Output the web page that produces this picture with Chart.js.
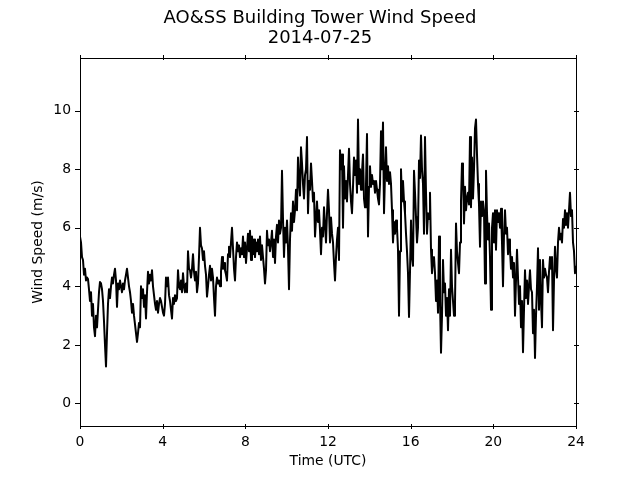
<!DOCTYPE html>
<html>
<head>
<meta charset="utf-8">
<script src="https://cdn.jsdelivr.net/npm/chart.js@4/dist/chart.umd.min.js"></script>
<style>
  html, body { margin: 0; padding: 0; background: #fff; }
  #wrap { width: 640px; height: 480px; }
</style>
</head>
<body>
<div id="wrap"><canvas id="windChart" width="640" height="480"></canvas></div>
<script>
// wind speed (m/s), evenly spaced samples from 00 to 24 UTC
const windSpeed = [
  5.7,5.5,5.0,4.9,4.4,4.6,4.2,4.3,4.25,3.9,3.5,3.8,3.0,3.4,2.6,2.3,3.0,2.6,3.2,3.8,
  4.15,4.1,3.9,3.5,2.8,2.0,1.26,2.4,3.4,3.9,3.6,4.0,4.3,4.1,4.4,4.6,4.2,3.3,4.1,3.9,
  4.2,4.0,3.8,4.1,3.9,4.2,4.4,4.6,4.3,4.0,3.8,3.5,3.1,3.4,3.0,2.7,2.4,2.1,2.4,2.75,
  2.6,4.0,3.6,3.9,3.3,3.7,2.9,3.8,4.5,4.1,4.4,4.2,4.55,4.0,3.7,3.4,3.2,3.5,3.1,3.4,
  3.6,3.5,3.3,3.1,3.0,3.4,4.3,4.0,4.3,3.7,3.5,3.2,2.9,3.6,3.4,3.7,3.5,3.6,4.55,4.0,
  3.9,4.2,3.8,4.45,4.0,3.8,4.1,3.8,5.2,4.6,4.55,4.3,4.6,5.1,4.5,4.2,4.5,3.8,4.1,5.0,
  6.0,5.4,5.3,4.9,5.2,4.7,4.4,3.65,4.0,4.4,4.7,4.2,4.6,4.3,3.6,3.0,4.0,4.3,4.1,4.2,
  4.0,4.5,5.0,4.6,4.8,4.55,4.4,4.2,5.1,5.35,5.0,5.5,6.0,5.3,4.6,4.2,5.0,5.5,5.2,5.4,
  5.0,5.3,5.1,5.7,5.0,5.5,4.8,5.3,5.8,5.2,5.9,4.9,5.7,5.1,5.6,5.0,5.5,5.2,5.6,5.1,
  5.7,4.9,5.4,5.0,4.6,4.1,4.55,5.9,5.4,5.6,5.2,5.5,5.9,5.0,5.6,4.8,5.7,6.1,5.5,6.25,
  5.8,6.0,7.95,6.3,5.0,6.0,5.5,6.25,5.3,3.9,5.6,6.5,5.9,6.9,6.2,6.6,7.3,6.6,8.4,7.6,
  7.1,8.75,8.2,7.5,7.0,7.8,8.0,9.1,6.5,7.6,7.3,8.2,7.6,6.9,7.2,5.7,6.3,6.9,6.2,6.6,
  5.9,5.1,6.0,5.7,6.7,6.1,5.5,6.5,7.3,6.6,5.5,6.35,5.8,5.5,4.8,4.2,5.0,5.6,6.0,4.9,
  8.65,8.0,8.5,6.0,8.1,7.0,7.6,6.9,7.8,8.7,7.5,6.9,6.5,7.4,8.4,7.8,8.3,7.2,9.7,7.5,
  8.0,7.3,7.9,8.5,7.0,6.7,7.5,9.2,5.7,7.4,8.1,7.4,7.8,7.5,7.6,7.2,7.6,7.3,7.0,6.8,
  7.5,9.3,8.0,9.6,6.5,7.8,8.75,7.6,8.1,7.5,7.9,7.5,6.6,5.5,6.2,5.8,6.25,6.0,5.25,3.0,
  5.2,8.0,6.9,7.6,6.9,6.5,5.8,5.2,4.45,2.95,4.5,6.25,5.0,4.7,7.95,7.2,6.35,5.5,6.0,8.3,
  7.7,9.15,8.0,7.5,5.8,9.1,7.2,5.8,6.5,6.3,7.2,5.25,4.45,4.9,5.0,4.45,3.5,4.2,3.1,5.7,
  3.5,1.73,3.0,4.9,3.8,4.1,3.0,3.6,2.5,3.9,3.0,5.25,4.0,3.5,3.0,3.4,6.15,5.2,4.8,4.45,
  5.5,6.9,8.2,7.85,6.15,7.4,6.6,7.0,7.2,6.8,9.1,6.7,8.4,7.0,8.0,9.4,9.7,8.5,7.5,6.8,
  5.35,6.9,6.4,6.9,6.6,4.1,7.95,6.5,5.6,6.15,5.0,3.2,6.0,6.5,5.5,6.6,5.25,6.6,6.2,6.5,
  6.0,6.65,5.5,4.0,5.8,6.6,5.8,6.0,5.1,5.6,5.25,4.6,5.0,4.3,4.8,3.0,4.2,5.25,4.3,3.4,
  4.0,2.6,3.5,1.75,3.2,4.55,3.6,4.2,3.4,4.0,4.55,3.9,3.8,2.4,3.2,1.55,3.0,4.0,5.3,3.2,
  4.9,3.5,2.6,4.9,4.3,4.6,4.4,4.3,3.8,4.5,5.0,4.6,5.0,2.5,4.2,5.35,4.6,4.3,5.5,6.0,
  5.6,5.8,5.5,6.3,6.0,6.6,6.1,6.5,6.0,6.6,7.2,6.4,6.6,5.5,5.2,4.45,4.7
];
const xTicks = [0, 4, 8, 12, 16, 20, 24];
const yTicks = [0, 2, 4, 6, 8, 10];

const stepHours = 24 / (windSpeed.length - 1);
const points = windSpeed.map((v, i) => ({ x: i * stepHours, y: v }));

const fontFamily = '"DejaVu Sans", sans-serif';

// black frame around the plot with small tick marks on all four sides
const framePlugin = {
  id: 'frame',
  afterDraw(chart) {
    const { ctx, chartArea: a, scales } = chart;
    ctx.save();
    ctx.strokeStyle = '#000';
    ctx.lineWidth = 1;
    ctx.strokeRect(Math.round(a.left) + 0.5, Math.round(a.top) + 0.5,
      Math.round(a.right - a.left), Math.round(a.bottom - a.top));
    ctx.beginPath();
    xTicks.forEach(t => {
      const px = Math.round(scales.x.getPixelForValue(t)) + 0.5;
      ctx.moveTo(px, a.bottom - 2); ctx.lineTo(px, a.bottom + 3);
      ctx.moveTo(px, a.top - 3); ctx.lineTo(px, a.top + 2);
    });
    yTicks.forEach(t => {
      const py = Math.round(scales.y.getPixelForValue(t)) + 0.5;
      ctx.moveTo(a.left - 5, py); ctx.lineTo(a.left, py);
      ctx.moveTo(a.right - 2, py); ctx.lineTo(a.right + 3, py);
    });
    ctx.stroke();
    ctx.restore();
  }
};

new Chart(document.getElementById('windChart').getContext('2d'), {
  type: 'line',
  data: {
    datasets: [{
      label: 'Wind Speed',
      data: points,
      borderColor: '#000',
      borderWidth: 2,
      borderJoinStyle: 'round',
      pointRadius: 0,
      tension: 0,
      fill: false
    }]
  },
  options: {
    responsive: false,
    animation: false,
    events: [],
    layout: { padding: 0 },
    plugins: {
      legend: { display: false },
      tooltip: { enabled: false },
      title: {
        display: true,
        text: ['AO&SS Building Tower Wind Speed', '2014-07-25'],
        color: '#000',
        font: { family: fontFamily, size: 18, weight: 'normal', lineHeight: 1.15 },
        padding: { top: 7.5, bottom: 9.1 }
      }
    },
    scales: {
      x: {
        type: 'linear',
        min: 0,
        max: 24,
        afterBuildTicks: s => { s.ticks = xTicks.map(v => ({ value: v })); },
        afterFit: s => { s.height = 54; },
        grid: { display: false, drawTicks: false },
        border: { display: false },
        ticks: { color: '#000', padding: 8, maxRotation: 0, font: { family: fontFamily, size: 13.9 } },
        title: {
          display: true,
          text: 'Time (UTC)',
          color: '#000',
          font: { family: fontFamily, size: 13.9 },
          padding: { top: 0, bottom: 10.6 }
        }
      },
      y: {
        type: 'linear',
        min: -0.77,
        max: 11.8,
        afterBuildTicks: s => { s.ticks = yTicks.map(v => ({ value: v })); },
        afterFit: s => { s.width = 80; },
        grid: { display: false, drawTicks: false },
        border: { display: false },
        ticks: { color: '#000', padding: 9, font: { family: fontFamily, size: 13.9 } },
        title: {
          display: true,
          text: 'Wind Speed (m/s)',
          color: '#000',
          font: { family: fontFamily, size: 13.9 },
          padding: { top: 29.6, bottom: 0 }
        }
      },
      // empty right-hand box so the plot ends at the same place as the original
      yRight: {
        type: 'linear',
        position: 'right',
        afterFit: s => { s.width = 64; },
        grid: { display: false, drawTicks: false },
        border: { display: false },
        ticks: { display: false }
      }
    }
  },
  plugins: [framePlugin]
});
</script>
</body>
</html>
